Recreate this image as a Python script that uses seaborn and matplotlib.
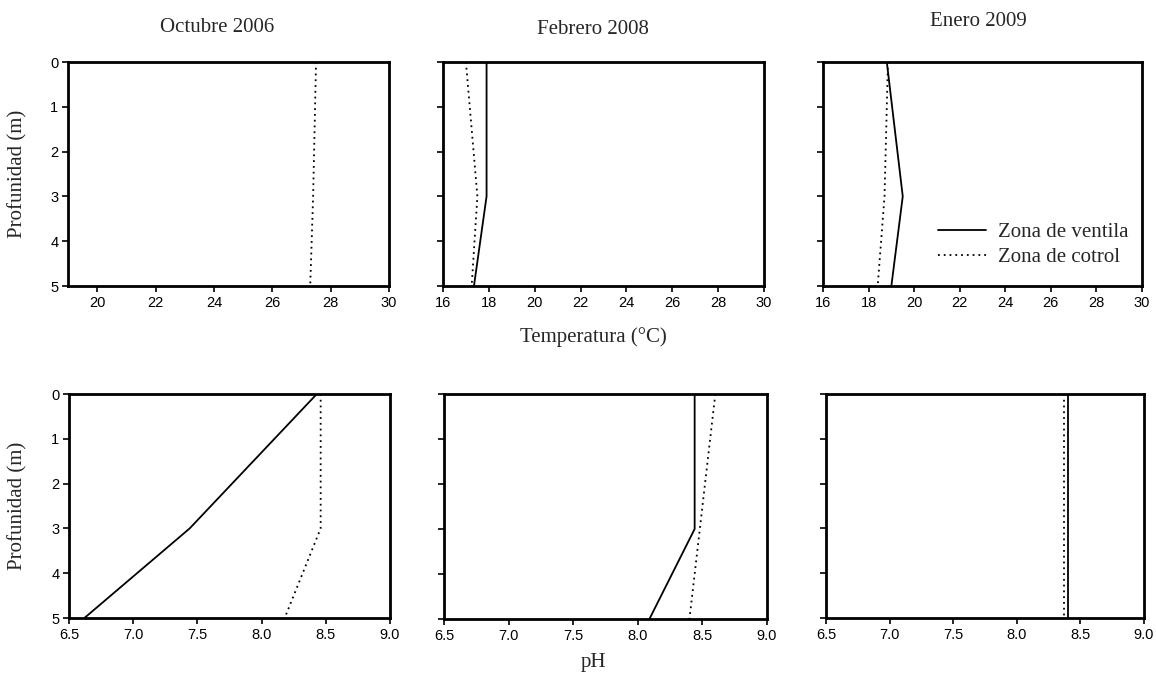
import numpy as np
import pandas as pd
import matplotlib
matplotlib.use("Agg")
import matplotlib.pyplot as plt
import seaborn as sns
from matplotlib.lines import Line2D

# ---------------- data ----------------
depths = [0, 3, 5]
campaigns = ["Octubre 2006", "Febrero 2008", "Enero 2009"]
zones = ["Zona de ventila", "Zona de cotrol"]

# Temperature (°C)
temp_vent = {
    "Octubre 2006": [np.nan, np.nan, np.nan],
    "Febrero 2008": [17.9, 17.9, 17.35],
    "Enero 2009": [18.8, 19.5, 19.0],
}
temp_ctrl = {
    "Octubre 2006": [27.5, 27.4, 27.3],
    "Febrero 2008": [17.0, 17.5, 17.25],
    "Enero 2009": [18.85, 18.7, 18.4],
}
# pH
ph_vent = {
    "Octubre 2006": [8.43, 7.44, 6.62],
    "Febrero 2008": [8.44, 8.44, 8.09],
    "Enero 2009": [8.40, 8.40, 8.40],
}
ph_ctrl = {
    "Octubre 2006": [8.46, 8.46, 8.18],
    "Febrero 2008": [8.60, 8.48, 8.40],
    "Enero 2009": [8.37, 8.37, 8.37],
}

temp_xlims = [(19, 30), (16, 30), (16, 30)]
temp_xticks = [[20, 22, 24, 26, 28, 30], list(range(16, 31, 2)), list(range(16, 31, 2))]
ph_xlim = (6.5, 9.0)
ph_xticks = [6.5, 7.0, 7.5, 8.0, 8.5, 9.0]
depth_ticks = [0, 1, 2, 3, 4, 5]


def long_df(vent, ctrl, camp):
    rows = []
    for z, src in zip(zones, [vent, ctrl]):
        for d, v in zip(depths, src[camp]):
            rows.append({"zona": z, "prof": d, "valor": v})
    return pd.DataFrame(rows)


# ---------------- figure ----------------
sns.set_theme(style="ticks")
plt.rcParams["font.family"] = ["Liberation Sans", "DejaVu Sans"]
plt.rcParams["axes.linewidth"] = 2.0

W, H = 1156, 679
fig = plt.figure(figsize=(W / 100, H / 100), dpi=100)


def add_ax(x0, y0, x1, y1):
    return fig.add_axes([x0 / W, 1 - y1 / H, (x1 - x0) / W, (y1 - y0) / H])


top_boxes = [(68, 62, 389, 286), (443, 62, 764, 286), (823, 62, 1142, 286)]
bot_boxes = [(69, 394, 390, 618), (444, 394, 767, 619), (826, 394, 1144, 618)]

dash_map = {"Zona de ventila": "", "Zona de cotrol": (1, 2.2)}
serif = ["Liberation Serif", "DejaVu Serif"]


def style_ax(ax, xlim, xticks, xfmt, show_ylabels):
    ax.set_xlim(*xlim)
    ax.set_ylim(5, 0)
    ax.set_xticks(xticks)
    ax.set_xticklabels([xfmt.format(t) for t in xticks], fontsize=10.5)
    ax.set_yticks(depth_ticks)
    if show_ylabels:
        ax.set_yticklabels([str(t) for t in depth_ticks], fontsize=10.5)
    else:
        ax.set_yticklabels([])
    ax.tick_params(direction="out", length=4, width=1.2, pad=3, colors="black")
    ax.set_xlabel("")
    ax.set_ylabel("")
    for s in ax.spines.values():
        s.set_linewidth(2.0)
        s.set_color("black")
        s.set_visible(True)


axes_top, axes_bot = [], []
for i, camp in enumerate(campaigns):
    ax = add_ax(*top_boxes[i])
    df = long_df(temp_vent, temp_ctrl, camp).dropna()
    sns.lineplot(data=df, x="valor", y="prof", style="zona", dashes=dash_map,
                 style_order=zones, orient="y", estimator=None, sort=False,
                 color="black", linewidth=1.3, ax=ax, legend=False)
    style_ax(ax, temp_xlims[i], temp_xticks[i], "{:d}", i == 0)
    axes_top.append(ax)

    ax2 = add_ax(*bot_boxes[i])
    df2 = long_df(ph_vent, ph_ctrl, camp).dropna()
    sns.lineplot(data=df2, x="valor", y="prof", style="zona", dashes=dash_map,
                 style_order=zones, orient="y", estimator=None, sort=False,
                 color="black", linewidth=1.3, ax=ax2, legend=False)
    style_ax(ax2, ph_xlim, ph_xticks, "{:.1f}", i == 0)
    axes_bot.append(ax2)

# legend in the top-right panel
handles = [Line2D([], [], color="black", lw=1.3),
           Line2D([], [], color="black", lw=1.3, dashes=(1, 2.2))]
axes_top[2].legend(handles, zones, loc="upper left", bbox_to_anchor=(0.36, 0.283),
                   frameon=False, borderpad=0, borderaxespad=0, handlelength=2.3,
                   handletextpad=0.6, labelspacing=0.25,
                   prop={"family": serif, "size": 15})

# titles
fig.text(217 / W, 1 - 28 / H, campaigns[0], ha="center", va="center", family=serif, fontsize=15)
fig.text(593 / W, 1 - 30 / H, campaigns[1], ha="center", va="center", family=serif, fontsize=15)
fig.text(978 / W, 1 - 22 / H, campaigns[2], ha="center", va="center", family=serif, fontsize=15)

# axis labels
fig.text(593 / W, 1 - 337 / H, "Temperatura (°C)", ha="center", va="center", family=serif, fontsize=15)
fig.text(593 / W, 1 - 663 / H, "pH", ha="center", va="center", family=serif, fontsize=15)
fig.text(18 / W, 1 - 174 / H, "Profunidad (m)", ha="center", va="center", rotation=90,
         family=serif, fontsize=15)
fig.text(18 / W, 1 - 506 / H, "Profunidad (m)", ha="center", va="center", rotation=90,
         family=serif, fontsize=15)

fig.savefig("out.png", dpi=100, facecolor="white")
